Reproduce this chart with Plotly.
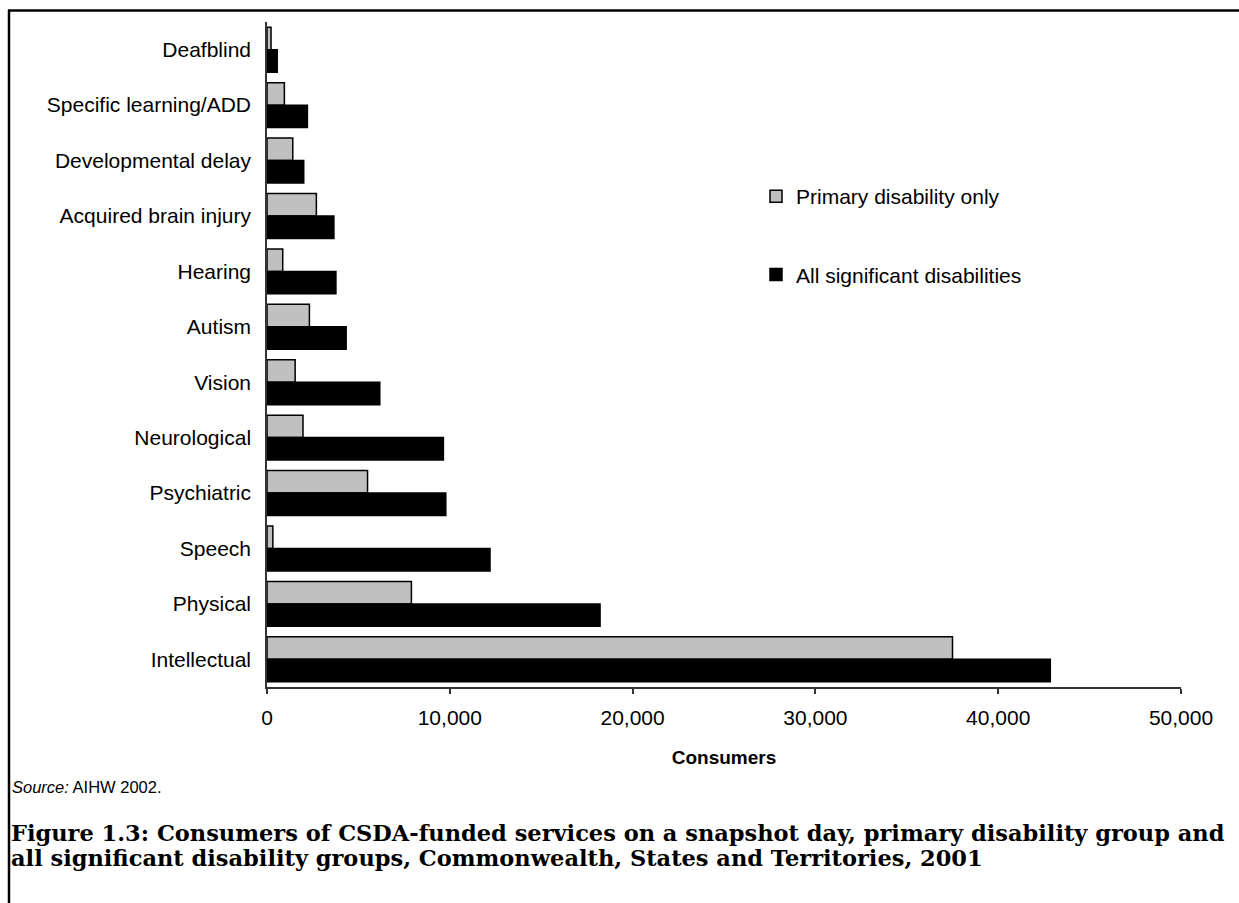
import plotly.graph_objects as go

# Disability groups, listed top to bottom as drawn
groups = [
    "Deafblind",
    "Specific learning/ADD",
    "Developmental delay",
    "Acquired brain injury",
    "Hearing",
    "Autism",
    "Vision",
    "Neurological",
    "Psychiatric",
    "Speech",
    "Physical",
    "Intellectual",
]

# Consumers by primary disability group only
primary_only = [220, 950, 1410, 2700, 860, 2320, 1540, 1970, 5500, 320, 7900, 37500]

# Consumers counted across all significant disability groups
all_significant = [560, 2210, 2010, 3660, 3770, 4330, 6170, 9650, 9780, 12200, 18220, 42850]

x_ticks = [0, 10000, 20000, 30000, 40000, 50000]
x_tick_text = ["0", "10,000", "20,000", "30,000", "40,000", "50,000"]

W, H = 1239, 903
L, R, T, B = 267, 1181, 22, 687  # plot area edges in pixels

SANS = "Liberation Sans, Arial, sans-serif"
SERIF = "DejaVu Serif, serif"


def px_x(px):
    return (px - L) / (R - L)


def px_y(py):
    return (B - py) / (B - T)


fig = go.Figure()

fig.add_trace(go.Bar(
    y=groups, x=primary_only, orientation="h",
    name="Primary disability only", legendgroup="a",
    marker=dict(color="#C0C0C0", line=dict(color="#000000", width=1.5)),
))
fig.add_trace(go.Bar(
    y=groups, x=all_significant, orientation="h",
    name="All significant disabilities", legendgroup="b",
    marker=dict(color="#000000", line=dict(color="#000000", width=1.5)),
))

fig.update_layout(
    width=W, height=H,
    margin=dict(l=L, r=W - R, t=T, b=H - B, pad=0),
    paper_bgcolor="white", plot_bgcolor="white",
    barmode="group", bargap=0.19, bargroupgap=0,
    font=dict(family=SANS, size=21, color="#000000"),
    showlegend=True,
    legend=dict(
        x=px_x(756), y=px_y(176), xanchor="left", yanchor="top",
        bgcolor="rgba(0,0,0,0)", borderwidth=0,
        tracegroupgap=48, traceorder="grouped",
        font=dict(family=SANS, size=21, color="#000000"),
    ),
    xaxis=dict(
        range=[0, 50000], tickvals=x_ticks, ticktext=x_tick_text,
        showgrid=False, zeroline=False,
        showline=True, linecolor="#333333", linewidth=1.5,
        ticks="outside", ticklen=5, tickcolor="#333333", tickwidth=1.5,
        ticklabelstandoff=6,
        tickfont=dict(family=SANS, size=21),
        title=dict(text="<b>Consumers</b>", standoff=23,
                   font=dict(family=SANS, size=19)),
        fixedrange=True,
    ),
    yaxis=dict(
        autorange="reversed", showgrid=False, zeroline=False,
        showline=True, linecolor="#333333", linewidth=1.5,
        ticks="", ticklabelstandoff=10,
        tickfont=dict(family=SANS, size=21),
        fixedrange=True,
    ),
)

# Frame around the figure
fig.add_shape(type="line", xref="paper", yref="paper",
              x0=px_x(8), x1=px_x(1250), y0=px_y(10.5), y1=px_y(10.5),
              line=dict(color="#000000", width=2.5))
fig.add_shape(type="line", xref="paper", yref="paper",
              x0=px_x(9), x1=px_x(9), y0=px_y(10), y1=px_y(915),
              line=dict(color="#000000", width=2.5))

fig.add_annotation(
    xref="paper", yref="paper", x=px_x(10), y=px_y(787),
    xanchor="left", yanchor="middle", showarrow=False,
    text="<i>Source:</i> AIHW 2002.",
    font=dict(family=SANS, size=16.5),
)

caption_lines = [
    "Figure 1.3: Consumers of CSDA-funded services on a snapshot day, "
    "primary disability group and",
    "all significant disability groups, Commonwealth, States and Territories, 2001",
]
for line, yc in zip(caption_lines, [833, 858]):
    fig.add_annotation(
        xref="paper", yref="paper", x=px_x(9), y=px_y(yc),
        xanchor="left", yanchor="middle", showarrow=False, align="left",
        text=f"<b>{line}</b>",
        font=dict(family=SERIF, size=22.5),
    )

fig.write_html("out.html")
